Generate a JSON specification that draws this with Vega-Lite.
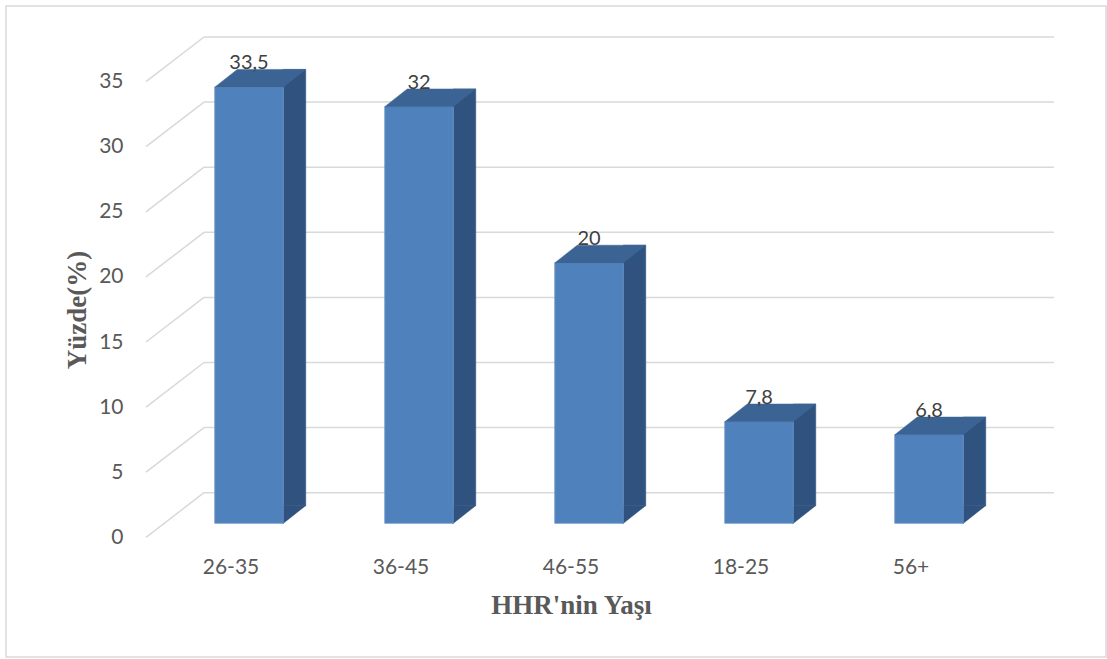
{
  "$schema": "https://vega.github.io/schema/vega-lite/v6.json",
  "width": 1100,
  "height": 651,
  "autosize": {"type": "none"},
  "padding": {"left": 6, "top": 6, "right": 1, "bottom": 2},
  "background": "white",
  "config": {
    "view": {"stroke": "#d9d9d9", "strokeWidth": 1.5},
    "locale": {"number": {"decimal": ",", "thousands": ".", "grouping": [3], "currency": ["", ""]}}
  },
  "datasets": {
    "bars": [
      {"yas": "26-35", "yuzde": 33.5},
      {"yas": "36-45", "yuzde": 32},
      {"yas": "46-55", "yuzde": 20},
      {"yas": "18-25", "yuzde": 7.8},
      {"yas": "56+", "yuzde": 6.8}
    ],
    "grid": [{"v": 0}, {"v": 5}, {"v": 10}, {"v": 15}, {"v": 20}, {"v": 25}, {"v": 30}, {"v": 35}]
  },
  "layer": [
    {
      "data": {"name": "grid"},
      "mark": {"type": "rule", "color": "#d9d9d9", "strokeWidth": 1.5, "xOffset": 58, "x2Offset": 58, "yOffset": -44.6},
      "encoding": {
        "x": {"datum": "26-35", "type": "nominal", "bandPosition": 0},
        "x2": {"datum": "56+", "bandPosition": 1},
        "y": {"field": "v", "type": "quantitative"}
      }
    },
    {
      "data": {"name": "grid"},
      "mark": {"type": "rule", "color": "#d9d9d9", "strokeWidth": 1.5, "x2Offset": 58, "y2Offset": -44.6},
      "encoding": {
        "x": {"datum": "26-35", "type": "nominal", "bandPosition": 0},
        "x2": {"datum": "26-35", "bandPosition": 0},
        "y": {"field": "v", "type": "quantitative"},
        "y2": {"field": "v"}
      }
    },
    {
      "data": {"name": "bars"},
      "mark": {"type": "bar", "color": "#2F527E", "stroke": "#2F527E", "strokeWidth": 0.5, "width": 22.5, "xOffset": 63.5, "yOffset": -31.7, "y2Offset": -31.7},
      "encoding": {
        "x": {"field": "yas", "type": "nominal"},
        "y": {"field": "yuzde", "type": "quantitative"},
        "y2": {"datum": 0}
      }
    },
    {
      "data": {"name": "bars"},
      "mark": {"type": "point", "filled": true, "opacity": 1, "size": 4, "color": "#2F527E", "stroke": "#2F527E", "strokeWidth": 0.5, "shape": "M51.8,-13.6L75,-31.9L51.8,-32Z"},
      "encoding": {
        "x": {"field": "yas", "type": "nominal"},
        "y": {"datum": 0, "type": "quantitative"}
      }
    },
    {
      "data": {"name": "bars"},
      "mark": {"type": "bar", "color": "#4F81BD", "stroke": "#6b95c8", "strokeWidth": 0.8, "width": 68.5, "xOffset": 18, "yOffset": -14, "y2Offset": -14},
      "encoding": {
        "x": {
          "field": "yas",
          "type": "nominal",
          "sort": ["26-35", "36-45", "46-55", "18-25", "56+"],
          "scale": {"domain": ["26-35", "36-45", "46-55", "18-25", "56+"], "range": [140, 990], "paddingInner": 0, "paddingOuter": 0},
          "axis": {
            "title": "HHR'nin Yaşı",
            "orient": "bottom",
            "offset": -90,
            "domain": false,
            "ticks": false,
            "grid": false,
            "labelPadding": 0,
            "labelBaseline": "middle",
            "labelAlign": "center",
            "labelAngle": 0,
            "labelFont": "Lato",
            "labelFontSize": 21,
            "labelColor": "#595959",
            "titleFont": "Liberation Serif",
            "titleFontSize": 27,
            "titleFontWeight": "bold",
            "titleColor": "#595959",
            "titleBaseline": "alphabetic",
            "titleY": 46
          }
        },
        "y": {
          "field": "yuzde",
          "type": "quantitative",
          "scale": {"domain": [0, 35], "range": [531.3, 75.6], "nice": false, "zero": true},
          "axis": {
            "title": "Yüzde(%)",
            "orient": "left",
            "offset": -117,
            "domain": false,
            "ticks": false,
            "grid": false,
            "values": [0, 5, 10, 15, 20, 25, 30, 35],
            "labelPadding": 0,
            "labelBaseline": "middle",
            "labelFont": "Lato",
            "labelFontSize": 21,
            "labelColor": "#595959",
            "titleFont": "Liberation Serif",
            "titleFontSize": 27,
            "titleFontWeight": "bold",
            "titleColor": "#595959",
            "titleBaseline": "middle",
            "titleX": -46
          }
        },
        "y2": {"datum": 0}
      }
    },
    {
      "data": {"name": "bars"},
      "mark": {"type": "point", "filled": true, "opacity": 1, "size": 4, "color": "#3B6494", "stroke": "#3B6494", "strokeWidth": 0.5, "shape": "M-16.25,-14L52.25,-14L74.75,-31.7L6.25,-31.7Z"},
      "encoding": {
        "x": {"field": "yas", "type": "nominal"},
        "y": {"field": "yuzde", "type": "quantitative"}
      }
    },
    {
      "data": {"name": "bars"},
      "mark": {"type": "text", "font": "Lato", "fontSize": 20, "color": "#404040", "baseline": "alphabetic", "align": "center", "xOffset": 18, "yOffset": -32, "text": {"expr": "replace(format(datum.yuzde, '.1~f'), '.', ',')"}},
      "encoding": {
        "x": {"field": "yas", "type": "nominal"},
        "y": {"field": "yuzde", "type": "quantitative"}
      }
    }
  ]
}
